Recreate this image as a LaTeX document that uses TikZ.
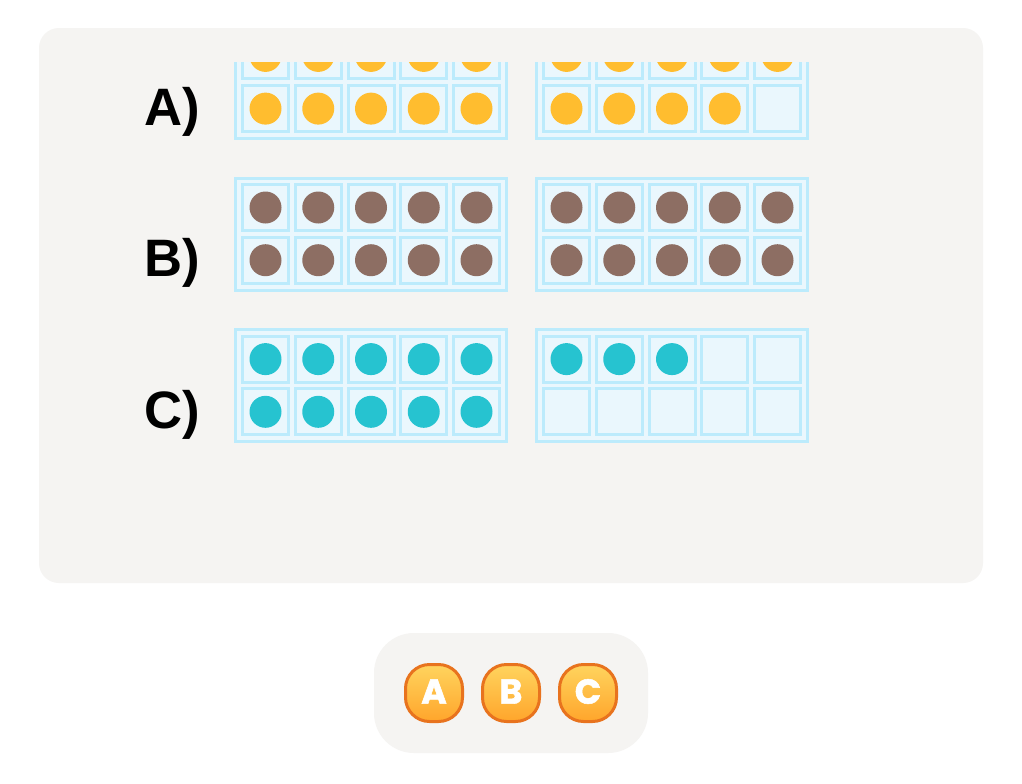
\documentclass[tikz,border=0pt]{standalone}
\usepackage{fontspec}
\setmainfont{Liberation Sans}
\newfontfamily\btnfont{Poppins}[BoldFeatures={FakeBold=1.6}]
\definecolor{panelbg}{HTML}{F5F4F2}
\definecolor{frameline}{HTML}{BCEBFC}
\definecolor{framefill}{HTML}{EAF7FD}
\definecolor{dotamber}{HTML}{FFBD2F}
\definecolor{dotbrown}{HTML}{8D6E63}
\definecolor{dotteal}{HTML}{26C3D0}
\definecolor{btnborder}{HTML}{E8731E}
\definecolor{btntop}{HTML}{FFD45E}
\definecolor{btnbottom}{HTML}{FFA52B}
\definecolor{btnshadow}{HTML}{9C4A1A}
\begin{document}
\begin{tikzpicture}[x=0.75pt,y=-0.75pt,
  framebox/.style={draw=frameline, fill=framefill, line width=2.25pt},
  cellbox/.style={draw=frameline, fill=framefill, line width=2.25pt},
  rowlabel/.style={anchor=base west, inner sep=0pt, font=\fontsize{39.5pt}{39.5pt}\selectfont\bfseries},
  btnbox/.style={draw=btnborder, line width=2.25pt, top color=btntop, bottom color=btnbottom, rounded corners=18pt},
  btntext/.style={inner sep=0pt, text=white, font=\btnfont\bfseries\fontsize{26pt}{26pt}\selectfont}]
\useasboundingbox (0,0) rectangle (1022,783);
\fill[white] (0,0) rectangle (1022,783);
\fill[panelbg, rounded corners=15pt] (39,28) rectangle (983,583);

\begin{scope}
\clip (39,62) rectangle (983,583);
\foreach \gx/\gy/\gn/\dc in {234/25.1/10/dotamber, 535/25.1/9/dotamber,
                             234/176.7/10/dotbrown, 535/176.7/10/dotbrown,
                             234/328.3/10/dotteal, 535/328.3/3/dotteal}{
  \draw[framebox] (\gx+1.5,\gy+1.5) rectangle (\gx+272.5,\gy+113.5);
  \foreach \r in {0,1}{
    \foreach \k in {0,...,4}{
      \pgfmathtruncatemacro\idx{\r*5+\k+1}
      \draw[cellbox] (\gx+31.5+\k*52.75-23,\gy+30.8+\r*52.7-23) rectangle ++(46,46);
      \ifnum\idx>\gn\relax\else
        \fill[\dc] (\gx+31.5+\k*52.75,\gy+30.8+\r*52.7) circle (12pt);
      \fi
    }
  }
}
\end{scope}

\node[rowlabel] (labA) at (144,125) {A)};
\node[rowlabel] (labB) at (144,276.6) {B)};
\node[rowlabel] (labC) at (144,428.2) {C)};

\fill[panelbg, rounded corners=30pt] (374,633) rectangle (648,753);
\foreach \bx/\bt/\bn in {434/A/btnA, 511/B/btnB, 588/C/btnC}{
  \draw[btnbox] (\bx-28.5,664.5) rectangle (\bx+28.5,721.5);
  \node[btntext] (\bn) at (\bx,691.5) {\bt};
}
\end{tikzpicture}
\end{document}
